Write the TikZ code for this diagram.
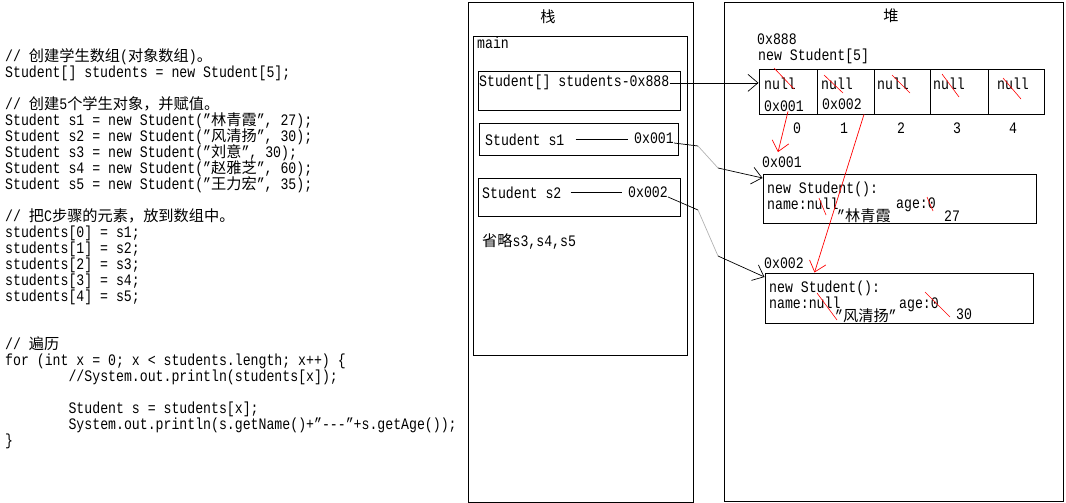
\documentclass[tikz,border=0pt]{standalone}
\usepackage{fontspec}
\setmonofont{Liberation Mono}[FakeStretch=0.825]
\newfontfamily\cjk{Noto Sans CJK SC}[Scale=0.95]
\usepackage{tikz}
\usetikzlibrary{
	arrows.meta
}
\lineskiplimit=-20pt\relax
\tikzset{
	x=1pt,
	y=-1pt,
	every node/.style={
		font=\ttfamily\fontsize{16}{16}\selectfont,
		inner sep=0pt
	},
	txt/.style={anchor=base west},
	box/.style={draw, line width=0.9pt, anchor=north west},
	strike/.style={draw=red, line width=0.6pt},
	ptr/.style={
		line width=0.7pt,
		-{Straight Barb[length=10pt,width=17pt]}
	},
	redptr/.style={ptr, red}
}

\begin{document}
\begin{tikzpicture}
		\useasboundingbox (0,0) rectangle (1066,503);

		% code
		\node[align=left, anchor=north west] (src) at (5,48) {%
			// {\cjk 创建学生数组}({\cjk 对象数组}){\cjk 。}\\
			Student[] students = new Student[5];\\[16pt]
			// {\cjk 创建}5{\cjk 个学生对象，并赋值。}\\
			Student s1 = new Student(”{\cjk 林青霞}”, 27);\\
			Student s2 = new Student(”{\cjk 风清扬}”, 30);\\
			Student s3 = new Student(”{\cjk 刘意}”, 30);\\
			Student s4 = new Student(”{\cjk 赵雅芝}”, 60);\\
			Student s5 = new Student(”{\cjk 王力宏}”, 35);\\[16pt]
			// {\cjk 把}C{\cjk 步骤的元素，放到数组中。}\\
			students[0] = s1;\\
			students[1] = s2;\\
			students[2] = s3;\\
			students[3] = s4;\\
			students[4] = s5;\\[32pt]
			// {\cjk 遍历}\\
			for (int x = 0; x < students.length; x++) \{\\
			\phantom{00000000}//System.out.println(students[x]);\\[16pt]
			\phantom{00000000}Student s = students[x];\\
			\phantom{00000000}System.out.println(s.getName()+”---”+s.getAge());\\
			\}
		};

		% stack
		\node[box, minimum width=225, minimum height=499] (stack) at (467.5,2.5) {};
		\node[box, minimum width=213.5, minimum height=318] (main) at (473,36.5) {};
		\node[box, minimum width=202, minimum height=38.5] (stubox) at (477.5,71.5) {};
		\node[box, minimum width=199, minimum height=32] (s1box) at (478.5,122.5) {};
		\node[box, minimum width=202, minimum height=38.5] (s2box) at (477.5,177.5) {};
		\node (stacklbl) at (548,17) {\cjk 栈};
		\node[txt] (mainlbl) at (477,49) {main};
		\node[txt] (stuvar) at (479,87) {Student[] students-0x888};
		\node[txt] (s1name) at (485,145) {Student s1};
		\node[txt] (s1addr) at (634,143) {0x001};
		\node[txt] (s2name) at (482,198) {Student s2};
		\node[txt] (s2addr) at (628,197) {0x002};
		\node[txt] (omitted) at (482,246) {{\cjk 省略}s3,s4,s5};
		\draw[line width=0.7pt] ([xshift=11pt]s1name.east) -- ([xshift=-6pt]s1name.east -| s1addr.west);
		\draw[line width=0.7pt] ([xshift=9pt]s2name.east) -- ([xshift=-6pt]s2name.east -| s2addr.west);

		% heap
		\node[box, minimum width=339, minimum height=498.5] (heap) at (723.5,2.5) {};
		\node (heaplbl) at (891,16) {\cjk 堆};
		\node[txt] (arraddr) at (757,45) {0x888};
		\node[txt] (arrnew) at (758,60) {new Student[5]};
		\node[box, minimum width=285, minimum height=44] (array) at (758.5,69.5) {};
		\foreach \x in {817.5,874.5,930.5,988.5}
			\draw[line width=0.9pt] (array.north -| \x,0) -- (array.south -| \x,0);
		\foreach \x [count=\i from 0] in {764,821,877,933,997}
			\node[txt] (null\i) at (\x,89) {null};
		\foreach \x [count=\i from 0] in {797,844,901,957,1013}
			\node[anchor=base] (idx\i) at (\x,133) {\i};
		\node[txt] (ref0) at (764,111) {0x001};
		\node[txt] (ref1) at (822,110) {0x002};
		\foreach \a/\b/\c/\d in {774/68/794/89,824/75/843/93,892/75/910/93,942/74/959/97,1003/78/1021/99}
			\draw[strike] (\a,\b) -- (\c,\d);

		\node[txt] (o1addr) at (762,167) {0x001};
		\node[box, minimum width=273.5, minimum height=49] (obj1) at (762.5,173.5) {};
		\node[txt] (o1new) at (767,193) {new Student():};
		\node[txt] (o1name) at (767,209) {name:null};
		\node[txt] (o1val) at (837,221) {”{\cjk 林青霞}};
		\node[txt] (o1age) at (896,208) {age:0};
		\node[txt] (o1num) at (944,221) {27};
		\draw[strike] (819,198) -- (826,215);
		\draw[strike] (927,197) -- (933,211);

		\node[txt] (o2addr) at (764,268) {0x002};
		\node[box, minimum width=268, minimum height=50] (obj2) at (764.5,272.5) {};
		\node[txt] (o2new) at (769,292) {new Student():};
		\node[txt] (o2name) at (769,308) {name:null};
		\node[txt] (o2val) at (835,321) {”{\cjk 风清扬}”};
		\node[txt] (o2age) at (899,308) {age:0};
		\node[txt] (o2num) at (956,319) {30};
		\draw[strike] (817,293) -- (837,320);
		\draw[strike] (925,292) -- (950,317);

		% references
		\coordinate (s1bend) at (698,146);
		\coordinate (s1turn) at (718,168);
		\coordinate (s2bend) at (698,210);
		\coordinate (s2turn) at (718,256);
		\draw[ptr] (stuvar.east) -- (stuvar.east -| array.west);
		\draw[line width=0.7pt] (s1addr.base east) -- (s1bend);
		\draw[line width=0.7pt, gray!60] (s1bend) -- (s1turn);
		\draw[ptr] (s1turn) -- ([yshift=-4.5pt]obj1.north west);
		\draw[line width=0.7pt] (s2addr.base east) -- (s2bend);
		\draw[line width=0.7pt, gray!60] (s2bend) -- (s2turn);
		\draw[ptr] (s2turn) -- ([yshift=-4.5pt]obj2.north west);
		\draw[redptr] ([xshift=4pt]ref0.south) -- ([xshift=-4pt,yshift=4pt]o1addr.north);
		\draw[redptr] ([xshift=2pt,yshift=-4pt]ref1.south east) -- ([xshift=50pt]obj2.north west);
\end{tikzpicture}
\end{document}
